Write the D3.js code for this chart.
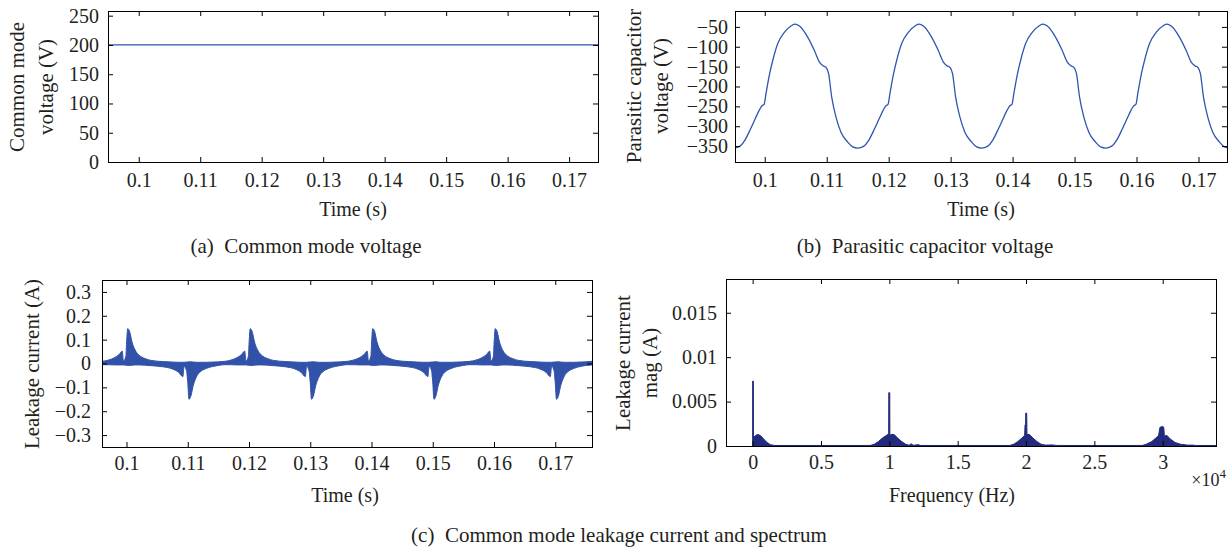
<!DOCTYPE html>
<html>
<head>
<meta charset="utf-8">
<title>Common mode voltage and leakage current</title>
<script src="https://cdn.jsdelivr.net/npm/d3@7/dist/d3.min.js"></script>
<style>
  body { margin: 0; background: #fff; }
  svg { display: block; }
  text { font-family: "Liberation Serif", "DejaVu Serif", serif; fill: #231f20; }
  .cap { white-space: pre; }
</style>
</head>
<body>
<div id="chart"></div>
<script>
// ---- data ----
var timeTicks = [0.1, 0.11, 0.12, 0.13, 0.14, 0.15, 0.16, 0.17];
var cmTicks = [0, 50, 100, 150, 200, 250];
var capTicks = [-350, -300, -250, -200, -150, -100, -50];
var curTicks = [-0.3, -0.2, -0.1, 0, 0.1, 0.2, 0.3];
var freqTicks = [0, 5000, 10000, 15000, 20000, 25000, 30000];
var magTicks = [0, 0.005, 0.01, 0.015];

// (a) common mode voltage, flat
var cmTime = [0.095, 0.175];
var cmVolt = [200, 200];

// (b) parasitic capacitor voltage
var capTime = [
  0.0950, 0.0960, 0.0968, 0.0977, 0.0985, 0.0991, 0.0996, 0.0999, 0.1002, 0.1008, 0.1013, 0.1021, 0.1032, 0.1043,
  0.1049, 0.1056, 0.1069, 0.1080, 0.1088, 0.1094, 0.1099, 0.1103, 0.1108, 0.1115, 0.1123, 0.1134, 0.1142,
  0.1150, 0.1160, 0.1168, 0.1177, 0.1185, 0.1191, 0.1196, 0.1199, 0.1202, 0.1208, 0.1213, 0.1221, 0.1232, 0.1243,
  0.1249, 0.1256, 0.1269, 0.1280, 0.1288, 0.1294, 0.1299, 0.1303, 0.1308, 0.1315, 0.1323, 0.1334, 0.1342,
  0.1350, 0.1360, 0.1368, 0.1377, 0.1385, 0.1391, 0.1396, 0.1399, 0.1402, 0.1408, 0.1413, 0.1421, 0.1432, 0.1443,
  0.1449, 0.1456, 0.1469, 0.1480, 0.1488, 0.1494, 0.1499, 0.1503, 0.1508, 0.1515, 0.1523, 0.1534, 0.1542,
  0.1550, 0.1560, 0.1568, 0.1577, 0.1585, 0.1591, 0.1596, 0.1599, 0.1602, 0.1608, 0.1613, 0.1621, 0.1632, 0.1643,
  0.1649, 0.1656, 0.1669, 0.1680, 0.1688, 0.1694, 0.1699, 0.1703, 0.1708, 0.1715, 0.1723, 0.1734, 0.1742,
  0.1750];
var capVolt = [
  -355, -350, -335, -307, -280, -260, -248, -245, -218, -167, -134, -92, -63, -47,
  -43, -48, -75, -109, -138, -148, -152, -167, -226, -277, -315, -340, -352,
  -355, -350, -335, -307, -280, -260, -248, -245, -218, -167, -134, -92, -63, -47,
  -43, -48, -75, -109, -138, -148, -152, -167, -226, -277, -315, -340, -352,
  -355, -350, -335, -307, -280, -260, -248, -245, -218, -167, -134, -92, -63, -47,
  -43, -48, -75, -109, -138, -148, -152, -167, -226, -277, -315, -340, -352,
  -355, -350, -335, -307, -280, -260, -248, -245, -218, -167, -134, -92, -63, -47,
  -43, -48, -75, -109, -138, -148, -152, -167, -226, -277, -315, -340, -352,
  -355];

// (c) leakage current, upper / lower envelope of the dense ripple
var curTime = [
  0.0960, 0.0970, 0.0980, 0.0988, 0.0993, 0.0995, 0.0999, 0.1000, 0.1002, 0.1005, 0.1009, 0.1015, 0.1020, 0.1030, 0.1040,
  0.1060, 0.1075, 0.1085, 0.1092, 0.1094, 0.1098, 0.1100, 0.1102, 0.1105, 0.1109, 0.1115, 0.1120, 0.1130, 0.1140, 0.1150,
  0.1160, 0.1170, 0.1180, 0.1188, 0.1193, 0.1195, 0.1199, 0.1200, 0.1202, 0.1205, 0.1209, 0.1215, 0.1220, 0.1230, 0.1240,
  0.1260, 0.1275, 0.1285, 0.1292, 0.1294, 0.1298, 0.1300, 0.1302, 0.1305, 0.1309, 0.1315, 0.1320, 0.1330, 0.1340, 0.1350,
  0.1360, 0.1370, 0.1380, 0.1388, 0.1393, 0.1395, 0.1399, 0.1400, 0.1402, 0.1405, 0.1409, 0.1415, 0.1420, 0.1430, 0.1440,
  0.1460, 0.1475, 0.1485, 0.1492, 0.1494, 0.1498, 0.1500, 0.1502, 0.1505, 0.1509, 0.1515, 0.1520, 0.1530, 0.1540, 0.1550,
  0.1560, 0.1570, 0.1580, 0.1588, 0.1593, 0.1595, 0.1599, 0.1600, 0.1602, 0.1605, 0.1609, 0.1615, 0.1620, 0.1630, 0.1640,
  0.1660, 0.1675, 0.1685, 0.1692, 0.1694, 0.1698, 0.1700, 0.1702, 0.1705, 0.1709, 0.1715, 0.1720, 0.1730, 0.1740, 0.1750,
  0.1760];
var curUpper = [
  0.009, 0.014, 0.024, 0.038, 0.052, 0.010, 0.030, 0.080, 0.146, 0.135, 0.090, 0.052, 0.036, 0.021, 0.013,
  0.008, 0.006, 0.005, 0.005, 0.005, 0.006, 0.006, 0.007, 0.007, 0.006, 0.005, 0.005, 0.005, 0.006, 0.007,
  0.009, 0.014, 0.024, 0.038, 0.052, 0.010, 0.030, 0.080, 0.146, 0.135, 0.090, 0.052, 0.036, 0.021, 0.013,
  0.008, 0.006, 0.005, 0.005, 0.005, 0.006, 0.006, 0.007, 0.007, 0.006, 0.005, 0.005, 0.005, 0.006, 0.007,
  0.009, 0.014, 0.024, 0.038, 0.052, 0.010, 0.030, 0.080, 0.146, 0.135, 0.090, 0.052, 0.036, 0.021, 0.013,
  0.008, 0.006, 0.005, 0.005, 0.005, 0.006, 0.006, 0.007, 0.007, 0.006, 0.005, 0.005, 0.005, 0.006, 0.007,
  0.009, 0.014, 0.024, 0.038, 0.052, 0.010, 0.030, 0.080, 0.146, 0.135, 0.090, 0.052, 0.036, 0.021, 0.013,
  0.008, 0.006, 0.005, 0.005, 0.005, 0.006, 0.006, 0.007, 0.007, 0.006, 0.005, 0.005, 0.005, 0.006, 0.007,
  0.009];
var curLower = [
  -0.005, -0.005, -0.006, -0.006, -0.006, -0.006, -0.007, -0.008, -0.008, -0.008, -0.007, -0.006, -0.006, -0.007, -0.009,
  -0.014, -0.023, -0.037, -0.055, -0.012, -0.030, -0.080, -0.150, -0.137, -0.092, -0.052, -0.036, -0.021, -0.013, -0.008,
  -0.005, -0.005, -0.006, -0.006, -0.006, -0.006, -0.007, -0.008, -0.008, -0.008, -0.007, -0.006, -0.006, -0.007, -0.009,
  -0.014, -0.023, -0.037, -0.055, -0.012, -0.030, -0.080, -0.150, -0.137, -0.092, -0.052, -0.036, -0.021, -0.013, -0.008,
  -0.005, -0.005, -0.006, -0.006, -0.006, -0.006, -0.007, -0.008, -0.008, -0.008, -0.007, -0.006, -0.006, -0.007, -0.009,
  -0.014, -0.023, -0.037, -0.055, -0.012, -0.030, -0.080, -0.150, -0.137, -0.092, -0.052, -0.036, -0.021, -0.013, -0.008,
  -0.005, -0.005, -0.006, -0.006, -0.006, -0.006, -0.007, -0.008, -0.008, -0.008, -0.007, -0.006, -0.006, -0.007, -0.009,
  -0.014, -0.023, -0.037, -0.055, -0.012, -0.030, -0.080, -0.150, -0.137, -0.092, -0.052, -0.036, -0.021, -0.013, -0.008,
  -0.006];

// (d) spectrum of the leakage current
var specFreq = [
  0, 0, 50, 60, 150, 350, 550, 800, 1050, 1300, 1600,
  8600, 8900, 9200, 9500, 9800, 9950, 9960, 10030, 10040, 10100, 10350, 10600, 10900, 11200, 11450, 11600, 11750, 12100, 12300,
  18800, 19100, 19400, 19700, 19900, 19930, 19970, 19980, 20050, 20070, 20250, 20500, 20800, 21100, 21400, 21900, 22300,
  28500, 28800, 29200, 29500, 29700, 29800, 30000, 30080, 30120, 30300, 30550, 30900, 31300, 31800, 32200, 32400, 34000, 34000];
var specMag = [
  0, 0.0073, 0.0073, 0.0009, 0.0011, 0.0013, 0.0012, 0.0008, 0.0004, 0.00015, 0.00006,
  0.00006, 0.0002, 0.0005, 0.0009, 0.0012, 0.0014, 0.0060, 0.0060, 0.0010, 0.0013, 0.0013, 0.0009, 0.0005, 0.0002, 0.00008, 0.00025, 0.00008, 0.00015, 0.00006,
  0.00006, 0.0002, 0.0005, 0.0009, 0.0012, 0.0024, 0.0024, 0.0037, 0.0037, 0.0013, 0.0013, 0.0009, 0.0005, 0.0002, 0.0001, 0.00012, 0.00006,
  0.00006, 0.0002, 0.0005, 0.0009, 0.0012, 0.0021, 0.0022, 0.0021, 0.0011, 0.0012, 0.0008, 0.0004, 0.0002, 0.0001, 0.0001, 0.00006, 0.00006, 0];

// ---- drawing ----
var W = 1228, H = 547;
var lineBlue = "#2e55b0", fillBlue = "#3152a8", navy = "#222a7c";
var svg = d3.select("#chart").append("svg").attr("width", W).attr("height", H);

function fmt(d) {
  return String(+d.toFixed(4)).replace("-", "\u2212");
}

function panel(id, box, xDom, yDom, xTicks, yTicks, xFmt, padX, padY) {
  var x = d3.scaleLinear().domain(xDom).range([box.x0, box.x1]);
  var y = d3.scaleLinear().domain(yDom).range([box.y1, box.y0]);
  var g = svg.append("g").attr("id", id);

  svg.append("clipPath").attr("id", "clip-" + id)
    .append("rect").attr("x", box.x0).attr("y", box.y0)
    .attr("width", box.x1 - box.x0).attr("height", box.y1 - box.y0);
  var plot = g.append("g").attr("clip-path", "url(#clip-" + id + ")");

  function style(a) {
    a.select(".domain").remove();
    a.attr("font-size", 20).attr("font-family", "Liberation Serif, DejaVu Serif, serif");
    a.selectAll("text").attr("fill", "#231f20");
  }
  g.append("g").attr("transform", "translate(0," + box.y1 + ")")
    .call(d3.axisBottom(x).tickValues(xTicks).tickSize(-5).tickPadding(padX).tickFormat(xFmt || fmt)).call(style);
  g.append("g").attr("transform", "translate(0," + box.y0 + ")")
    .call(d3.axisTop(x).tickValues(xTicks).tickSize(-5).tickFormat("")).call(style);
  g.append("g").attr("transform", "translate(" + box.x0 + ",0)")
    .call(d3.axisLeft(y).tickValues(yTicks).tickSize(-5).tickPadding(padY).tickFormat(fmt)).call(style);
  g.append("g").attr("transform", "translate(" + box.x1 + ",0)")
    .call(d3.axisRight(y).tickValues(yTicks).tickSize(-5).tickFormat("")).call(style);

  g.append("rect").attr("x", box.x0 + 0.5).attr("y", box.y0 + 0.5)
    .attr("width", box.x1 - box.x0).attr("height", box.y1 - box.y0)
    .attr("fill", "none").attr("stroke", "#000").attr("stroke-width", 1);

  return { g: g, plot: plot, x: x, y: y };
}

function label(txt, x, y, size, rotate, anchor) {
  var t = svg.append("text").attr("font-size", size).attr("text-anchor", anchor || "middle").attr("class", "cap");
  if (rotate) t.attr("transform", "translate(" + x + "," + y + ") rotate(-90)");
  else t.attr("x", x).attr("y", y);
  t.text(txt);
  return t;
}

// (a)
var pa = panel("a", { x0: 108, x1: 598, y0: 11, y1: 162 }, [0.095, 0.1747], [0, 258], timeTicks, cmTicks, null, 11, 9);
pa.plot.append("path")
  .attr("d", d3.line().x(function (d, i) { return pa.x(cmTime[i]); }).y(function (d) { return pa.y(d); })(cmVolt))
  .attr("fill", "none").attr("stroke", lineBlue).attr("stroke-width", 1.3);

// (b)
var pb = panel("b", { x0: 735, x1: 1227, y0: 11, y1: 162 }, [0.0952, 0.1746], [-390, -10], timeTicks, capTicks, null, 11, 7);
pb.plot.append("path")
  .attr("d", d3.line().curve(d3.curveMonotoneX)
    .x(function (d, i) { return pb.x(capTime[i]); }).y(function (d) { return pb.y(d); })(capVolt))
  .attr("fill", "none").attr("stroke", lineBlue).attr("stroke-width", 1.3);

// (c)
var pc = panel("c", { x0: 102, x1: 592, y0: 280, y1: 447 }, [0.096, 0.176], [-0.35, 0.35], timeTicks, curTicks, null, 9, 11);
pc.plot.append("path")
  .attr("d", d3.area().curve(d3.curveMonotoneX)
    .x(function (d, i) { return pc.x(curTime[i]); })
    .y0(function (d, i) { return pc.y(curLower[i]); })
    .y1(function (d) { return pc.y(d); })(curUpper))
  .attr("fill", fillBlue).attr("stroke", fillBlue).attr("stroke-width", 1);

// (d)
var pd = panel("d", { x0: 726, x1: 1216, y0: 279, y1: 446 }, [-1950, 33900], [0, 0.0188], freqTicks, magTicks,
  function (d) { return String(d / 1e4); }, 9, 9);
pd.plot.append("path")
  .attr("d", d3.area()
    .x(function (d, i) { return pd.x(specFreq[i]); })
    .y0(pd.y(0))
    .y1(function (d) { return pd.y(d); })(specMag))
  .attr("fill", navy).attr("stroke", navy).attr("stroke-width", 1);

// axis titles
label("Common mode", 24, 87, 21, true);
label("voltage (V)", 53, 87, 21, true);
label("Parasitic capacitor", 641, 86, 21, true);
label("voltage (V)", 668, 86, 21, true);
label("Leakage current (A)", 39, 364, 21, true);
label("Leakage current", 630, 363, 21, true);
label("mag (A)", 657, 363, 21, true);

label("Time (s)", 353, 216, 20);
label("Time (s)", 981, 216, 20);
label("Time (s)", 345, 502, 20);
label("Frequency (Hz)", 952, 502, 20);

var e = svg.append("text").attr("x", 1226).attr("y", 486).attr("font-size", 18).attr("text-anchor", "end");
e.append("tspan").text("\u00d710");
e.append("tspan").attr("font-size", 13).attr("dy", -8).text("4");

// captions
label("(a)  Common mode voltage", 306, 253, 21);
label("(b)  Parasitic capacitor voltage", 925, 253, 21);
label("(c)  Common mode leakage current and spectrum", 619, 542, 21);
</script>
</body>
</html>
